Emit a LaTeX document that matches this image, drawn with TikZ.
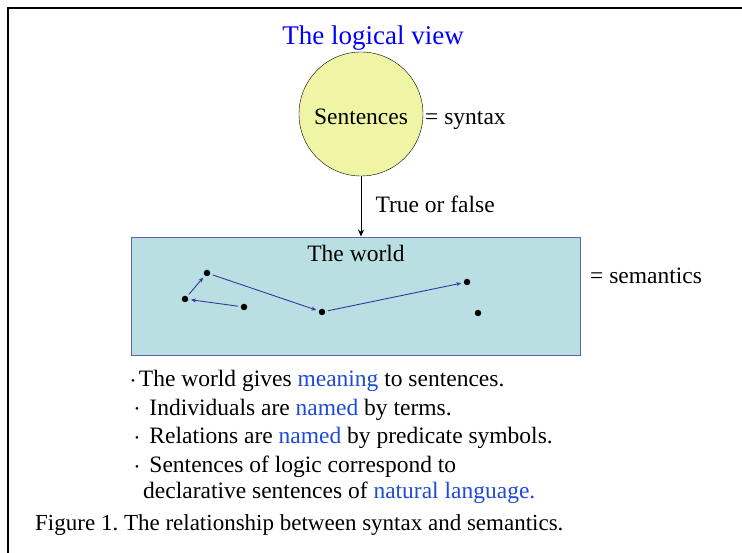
\documentclass[tikz,border=0pt]{standalone}
\usepackage{fontspec}
\setmainfont{Liberation Serif}
\usetikzlibrary{arrows.meta}
\definecolor{titleblue}{RGB}{0,0,255}
\definecolor{wordblue}{RGB}{30,75,215}
\definecolor{linkblue}{RGB}{55,55,160}
\definecolor{worldfill}{RGB}{186,223,226}
\definecolor{worldedge}{RGB}{95,95,180}
\definecolor{sentfill}{RGB}{240,245,165}
\newcommand{\dotmark}{{\fontsize{11}{11}\selectfont\raisebox{2pt}{\textbullet}}}

\begin{document}
\begin{tikzpicture}[
  x=1pt, y=-1pt, >=Stealth,
  txt/.style={inner sep=0pt,anchor=base west,font=\fontsize{23.5}{28}\selectfont},
  pt/.style={circle,fill=black,inner sep=0pt,minimum size=6.5pt},
  link/.style={->,draw=linkblue,line width=0.9pt,shorten <=2.5pt,shorten >=2.5pt,
    >={Stealth[length=5pt,width=4pt]}}]
\useasboundingbox (0,0) rectangle (742,553);
\draw[line width=2pt] (8,570) -- (8,8) -- (760,8);
\node[txt,anchor=base,font=\fontsize{27}{32}\selectfont,text=titleblue] (title) at (373,45) {The logical view};
% syntax side
\node[circle,draw,fill=sentfill,minimum size=124pt,inner sep=0pt] (sent) at (361,114) {};
\node[txt,anchor=base] (sentlbl) at (361,125) {Sentences};
\node[txt] (syntax) at (425,125) {= syntax};
% semantics side
\node[draw=worldedge,line width=0.9pt,fill=worldfill,minimum width=449pt,minimum height=118pt,inner sep=0pt] (world) at (355.5,296) {};
\node[txt,anchor=base] (worldlbl) at (356,262) {The world};
\node[txt] (semantics) at (590,284) {= semantics};
\draw[->,line width=1pt,>={Stealth[length=7pt,width=6pt]}] (sent.south) -- node[txt,pos=0.5,xshift=14pt,yshift=-6pt] (truth) {True or false} (sent.south |- world.north);
% individuals in the world
\node[pt] (d1) at (207,273) {};
\node[pt] (d2) at (185,299) {};
\node[pt] (d3) at (244,307) {};
\node[pt] (d4) at (322,312) {};
\node[pt] (d5) at (467,282) {};
\node[pt] (d6) at (478,313) {};
\draw[link] (d3) -- (d2);
\draw[link] (d2) -- (d1);
\draw[link] (d1) -- (d4);
\draw[link] (d4) -- (d5);
% remarks
\node[txt] (r1) at (131,387) {\dotmark\,The world gives \textcolor{wordblue}{meaning} to sentences.};
\node[txt] (r2) at (135,415) {\dotmark\;\,Individuals are \textcolor{wordblue}{named} by terms.};
\node[txt] (r3) at (135,443) {\dotmark\;\,Relations are \textcolor{wordblue}{named} by predicate symbols.};
\node[txt] (r4) at (135,472) {\dotmark\;\,Sentences of logic correspond to};
\node[txt] (r5) at (143,498) {declarative sentences of \textcolor{wordblue}{natural language.}};
\node[txt,font=\fontsize{23}{28}\selectfont] (caption) at (35,530) {Figure 1.\ The relationship between syntax and semantics.};
\end{tikzpicture}
\end{document}
